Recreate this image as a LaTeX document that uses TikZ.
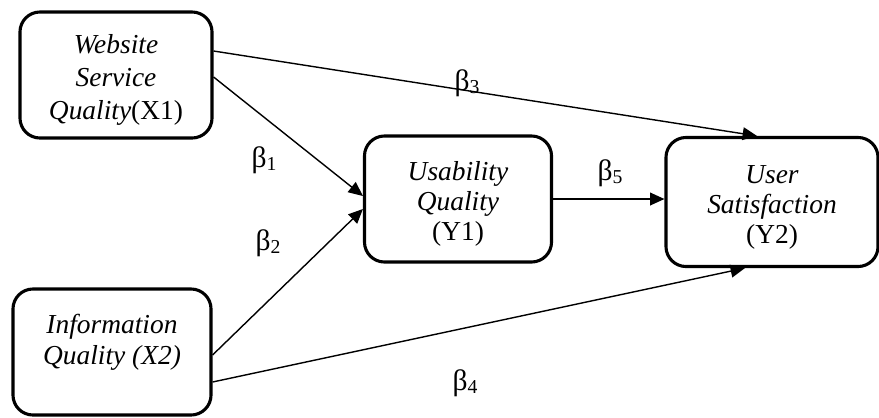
\documentclass[tikz,border=0pt]{standalone}
\usepackage{fontspec}
\setmainfont{Liberation Serif}
\usetikzlibrary{calc,arrows.meta}
\tikzset{bx/.style={draw=black,line width=2.2pt,rounded corners=0.5cm,align=center,font=\fontsize{19.5}{21.5}\selectfont\itshape,inner sep=0pt},
  arr/.style={line width=1pt,-{Triangle[length=3.6mm,width=3.2mm]}},
  bt/.style={font=\fontsize{21}{21}\selectfont,inner sep=0pt}}
\newcommand{\bet}[1]{β\raisebox{-0.25ex}{\fontsize{14}{14}\selectfont #1}}
\newcommand{\tp}{\rule{0pt}{20.5pt}}

\begin{document}
\begin{tikzpicture}[x=0.025cm,y=-0.025cm]
\useasboundingbox (0,0) rectangle (879,417);
\node[bx,minimum width=4.8cm,minimum height=3.15cm,font=\fontsize{19.5}{23.5}\selectfont\itshape] (x1) at (116,75) {\tp Website\\Service\\Quality\upshape(X1)};
\node[bx,minimum width=4.95cm,minimum height=3.15cm] (x2) at (112,352) {Information\\Quality (X2)\\[-3.5pt]};
\node[bx,minimum width=4.675cm,minimum height=3.15cm] (y1) at (458,199) {\tp Usability\\Quality\\\upshape(Y1)};
\node[bx,minimum width=5.3cm,minimum height=3.225cm] (y2) at (772,202) {\tp User\\Satisfaction\\\upshape(Y2)};
% paths
\draw[arr] ([shift={(0,-24)}]x1.east) -- ([shift={(-15,0)}]y2.north);
\draw[arr] ([shift={(0,2)}]x1.east) -- ([shift={(0,-3)}]y1.west);
\draw[arr] ([shift={(0,3)}]x2.east) -- ([shift={(0,10)}]y1.west);
\draw[arr] ([shift={(0,30)}]x2.east) -- ([shift={(-27,0)}]y2.south);
\draw[arr] (y1.east) -- (y1.east -| y2.west);
% coefficients
\foreach \n/\p in {1/{264,160},2/{268,243},3/{467,83},4/{465,383},5/{610,173}}
  \node[bt] (b\n) at (\p) {\bet{\n}};
\end{tikzpicture}
\end{document}
